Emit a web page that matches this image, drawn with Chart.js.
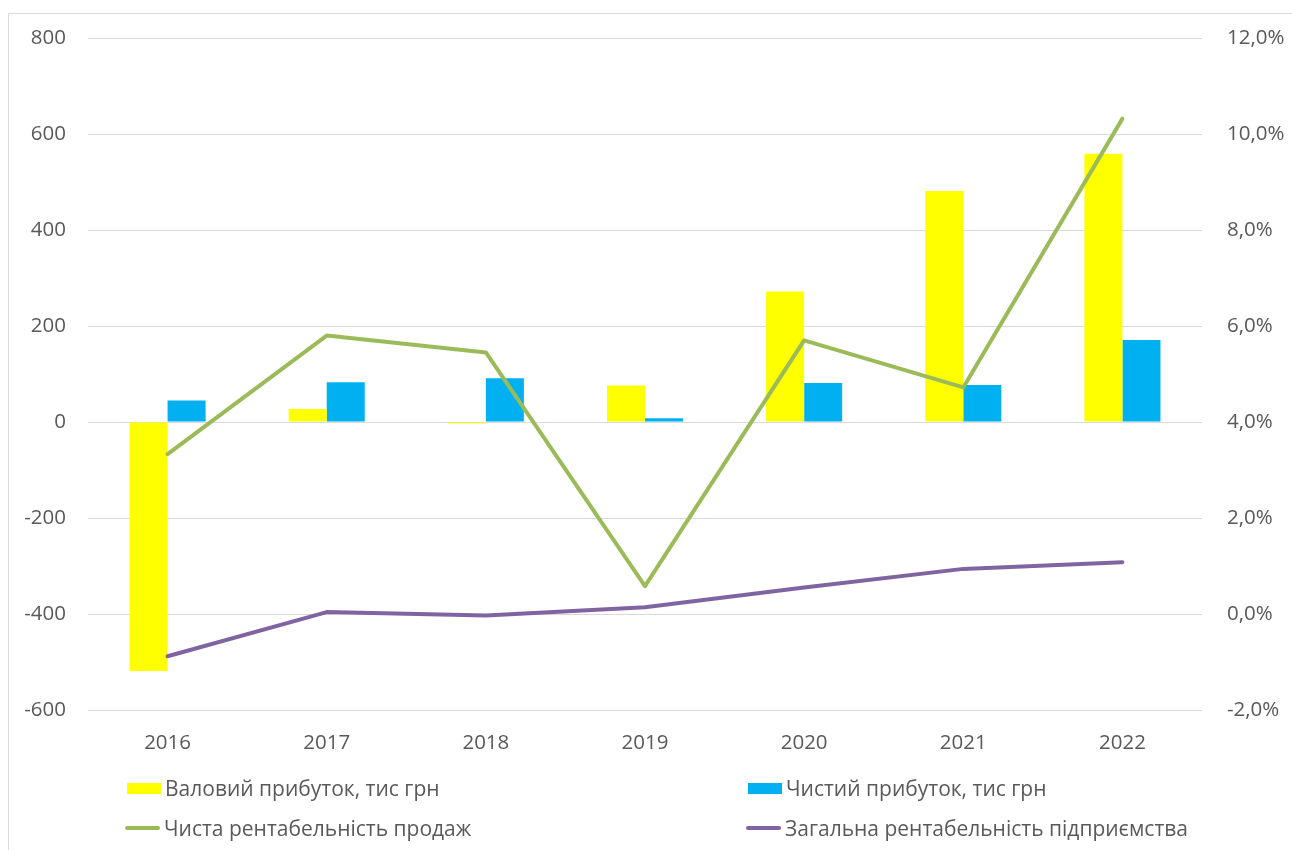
<!DOCTYPE html>
<html>
<head>
<meta charset="utf-8">
<script src="https://cdn.jsdelivr.net/npm/chart.js@4.4.1/dist/chart.umd.min.js"></script>
<style>
  html, body { margin: 0; padding: 0; background: #fff; }
  body { width: 1292px; height: 850px; position: relative; overflow: hidden; font-family: "Open Sans", sans-serif; }
  #frame { position: absolute; left: 8px; top: 13px; width: 1300px; height: 900px; border-left: 1px solid #d9d9d9; border-top: 1px solid #d9d9d9; }
  #wrap { position: absolute; left: 0; top: 0; width: 1292px; height: 850px; }
  .lg { position: absolute; display: flex; align-items: center; font-size: 21px; color: #595959; white-space: nowrap; }
  .lg .box { width: 34px; height: 11px; margin-right: 4px; }
  .lg .ln { width: 35px; height: 4px; border-radius: 2px; margin-right: 4px; }
</style>
</head>
<body>
<div id="frame"></div>
<div id="wrap"><canvas id="c" width="1292" height="850"></canvas></div>
<div id="legend"></div>
<script>
const years = ['2016', '2017', '2018', '2019', '2020', '2021', '2022'];
const grossProfit = [-519, 27, -3, 76, 272, 481, 559];
const netProfit = [45, 83, 91, 8, 81, 77, 171];
const netSalesProfitability = [3.33, 5.80, 5.45, 0.58, 5.70, 4.72, 10.32];
const totalProfitability = [-0.88, 0.04, -0.03, 0.14, 0.55, 0.94, 1.08];
const seriesNames = ['Валовий прибуток, тис грн', 'Чистий прибуток, тис грн', 'Чиста рентабельність продаж', 'Загальна рентабельність підприємства'];
const leftTicks = [-600, -400, -200, 0, 200, 400, 600, 800];
const rightTicks = [-2, 0, 2, 4, 6, 8, 10, 12];

const colors = ['#ffff00', '#00b0f0', '#9bbb59', '#8064a2'];
const tickColor = '#595959';
const font = { family: '"Open Sans", sans-serif', size: 20.5 };

new Chart(document.getElementById('c'), {
  type: 'bar',
  data: {
    labels: years,
    datasets: [
      { label: seriesNames[0], data: grossProfit, backgroundColor: colors[0], yAxisID: 'y', order: 2,
        categoryPercentage: 0.478, barPercentage: 1.0 },
      { label: seriesNames[1], data: netProfit, backgroundColor: colors[1], yAxisID: 'y', order: 2,
        categoryPercentage: 0.478, barPercentage: 1.0 },
      { type: 'line', label: seriesNames[2], data: netSalesProfitability, borderColor: colors[2], backgroundColor: colors[2],
        borderWidth: 4, pointRadius: 0, tension: 0, yAxisID: 'y1', order: 0, borderCapStyle: 'round', borderJoinStyle: 'round' },
      { type: 'line', label: seriesNames[3], data: totalProfitability, borderColor: colors[3], backgroundColor: colors[3],
        borderWidth: 4, pointRadius: 0, tension: 0, yAxisID: 'y1', order: 0, borderCapStyle: 'round', borderJoinStyle: 'round' }
    ]
  },
  options: {
    responsive: false,
    animation: false,
    layout: { padding: { top: 38, left: 0, right: 0, bottom: 0 } },
    plugins: { legend: { display: false }, tooltip: { enabled: false } },
    scales: {
      x: {
        grid: { display: false, drawTicks: false },
        border: { display: false },
        ticks: { color: tickColor, font: font, padding: 21, maxRotation: 0 },
        afterFit: s => { s.height = 140; }
      },
      y: {
        position: 'left',
        min: leftTicks[0], max: leftTicks[leftTicks.length - 1],
        afterBuildTicks: s => { s.ticks = leftTicks.map(v => ({ value: v })); },
        grid: { color: '#d9d9d9', lineWidth: 1, drawTicks: false },
        border: { display: false },
        ticks: { color: tickColor, font: font, padding: 22 },
        afterFit: s => { s.width = 88; }
      },
      y1: {
        position: 'right',
        min: rightTicks[0], max: rightTicks[rightTicks.length - 1],
        afterBuildTicks: s => { s.ticks = rightTicks.map(v => ({ value: v })); },
        grid: { drawOnChartArea: false, drawTicks: false },
        border: { display: false },
        ticks: { color: tickColor, font: font, padding: 25,
          callback: v => v.toFixed(1).replace('.', ',') + '%' },
        afterFit: s => { s.width = 90; }
      }
    }
  }
});

// HTML legend built from the series names/colours
const legendPos = [[127, 788], [748, 788], [125, 828], [746, 828]];
const lg = document.getElementById('legend');
seriesNames.forEach((name, i) => {
  const d = document.createElement('div');
  d.className = 'lg';
  d.style.left = legendPos[i][0] + 'px';
  d.style.top = (legendPos[i][1] - 14) + 'px';
  d.style.height = '28px';
  const m = document.createElement('span');
  m.className = i < 2 ? 'box' : 'ln';
  m.style.background = colors[i];
  const t = document.createElement('span');
  t.textContent = name;
  d.appendChild(m); d.appendChild(t);
  lg.appendChild(d);
});
</script>
</body>
</html>
